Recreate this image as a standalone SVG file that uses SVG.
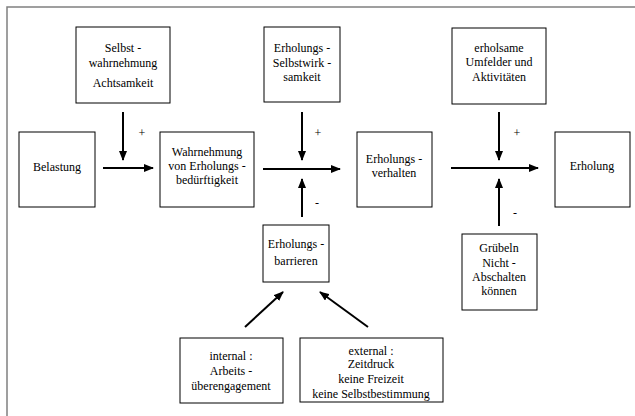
<svg xmlns="http://www.w3.org/2000/svg" width="635" height="416" viewBox="0 0 635 416">
<style>
.box{fill:#fff;stroke:#000;stroke-width:1}
.t{font-family:"Liberation Serif","Times New Roman",serif;font-size:12px;fill:#000;text-anchor:middle}
.c{stroke:#000;stroke-width:2;fill:none;marker-end:url(#ah)}
.frame{stroke:#808080;stroke-width:1.5;fill:none}
</style>
<defs>
<marker id="ah" markerUnits="userSpaceOnUse" markerWidth="10" markerHeight="8" refX="9" refY="4" orient="auto">
<path d="M0,0 L10,4 L0,8 Z" fill="#000"/>
</marker>
</defs>
<rect width="635" height="416" fill="#fff"/>
<path class="frame" d="M7,420 V7 H640"/>

<g id="selbstwahrnehmung"><rect class="box" x="76" y="27" width="94" height="76"/>
<text class="t" x="123" y="52">Selbst -</text><text class="t" x="123" y="67">wahrnehmung</text><text class="t" x="123" y="87">Achtsamkeit</text></g>

<g id="belastung"><rect class="box" x="19" y="132" width="76" height="75"/>
<text class="t" x="57" y="171">Belastung</text></g>

<g id="wahrnehmung"><rect class="box" x="160" y="132" width="94" height="75"/>
<text class="t" x="207" y="156">Wahrnehmung</text><text class="t" x="207" y="170">von Erholungs -</text><text class="t" x="207" y="184">bedürftigkeit</text></g>

<g id="selbstwirksamkeit"><rect class="box" x="264" y="27" width="76" height="75"/>
<text class="t" x="302" y="52">Erholungs -</text><text class="t" x="302" y="67">Selbstwirk -</text><text class="t" x="302" y="81">samkeit</text></g>

<g id="verhalten"><rect class="box" x="357" y="132" width="75" height="75"/>
<text class="t" x="394" y="163">Erholungs -</text><text class="t" x="394" y="177">verhalten</text></g>

<g id="umfelder"><rect class="box" x="452" y="28" width="94" height="76"/>
<text class="t" x="499" y="52">erholsame</text><text class="t" x="499" y="66">Umfelder und</text><text class="t" x="499" y="81">Aktivitäten</text></g>

<g id="erholung"><rect class="box" x="555" y="132" width="75" height="75"/>
<text class="t" x="592" y="170">Erholung</text></g>

<g id="barrieren"><rect class="box" x="263" y="225" width="66" height="57"/>
<text class="t" x="296" y="248">Erholungs -</text><text class="t" x="296" y="265">barrieren</text></g>

<g id="gruebeln"><rect class="box" x="462" y="234" width="75" height="76"/>
<text class="t" x="499" y="252">Grübeln</text><text class="t" x="499" y="267">Nicht -</text><text class="t" x="499" y="281">Abschalten</text><text class="t" x="499" y="295">können</text></g>

<g id="internal"><rect class="box" x="180" y="338" width="103" height="65"/>
<text class="t" x="231" y="360">internal :</text><text class="t" x="231" y="375">Arbeits -</text><text class="t" x="231" y="390">überengagement</text></g>

<g id="external"><rect class="box" x="300" y="338" width="143" height="64"/>
<text class="t" x="371" y="355">external :</text><text class="t" x="371" y="368">Zeitdruck</text><text class="t" x="371" y="383">keine Freizeit</text><text class="t" x="371" y="398">keine Selbstbestimmung</text></g>

<g id="connectors">
<line class="c" x1="103" y1="168" x2="153" y2="168"/>
<line class="c" x1="123" y1="112" x2="123" y2="160"/>
<line class="c" x1="263" y1="169" x2="340" y2="169"/>
<line class="c" x1="302" y1="112" x2="302" y2="160"/>
<line class="c" x1="302" y1="217" x2="302" y2="179"/>
<line class="c" x1="451" y1="168" x2="538" y2="168"/>
<line class="c" x1="499" y1="112" x2="499" y2="160"/>
<line class="c" x1="499" y1="226" x2="499" y2="179"/>
<line class="c" x1="245" y1="327" x2="283" y2="292"/>
<line class="c" x1="368" y1="327" x2="320" y2="292"/>
<text class="t" x="142" y="137">+</text>
<text class="t" x="318" y="137">+</text>
<text class="t" x="517" y="137">+</text>
<text class="t" x="317" y="207">-</text>
<text class="t" x="515" y="217">-</text>
</g>
</svg>
